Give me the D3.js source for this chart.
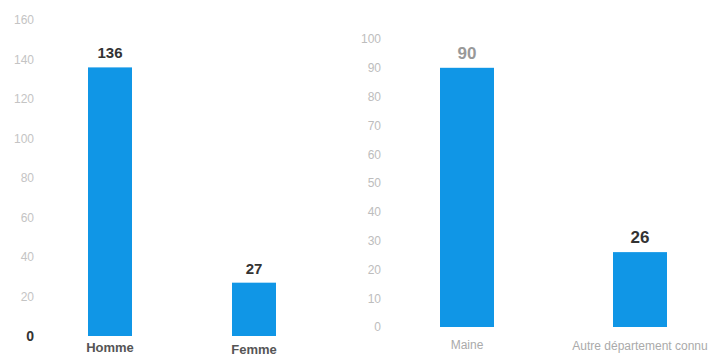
<!DOCTYPE html>
<html><head><meta charset="utf-8">
<script src="https://cdn.jsdelivr.net/npm/d3@7"></script>
<style>
body{margin:0;background:#fff;}
text{font-family:"Liberation Sans Narrow","Arial Narrow","Liberation Sans",sans-serif;}
</style></head>
<body><svg id="c" width="721" height="359"></svg>
<script>
const sexCategories = ["Homme", "Femme"];
const sexValues = [136, 27];
const sexTicks = [0, 20, 40, 60, 80, 100, 120, 140, 160];

const originCategories = ["Maine", "Autre département connu"];
const originValues = [90, 26];
const originTicks = [0, 10, 20, 30, 40, 50, 60, 70, 80, 90, 100];

const svg = d3.select("#c");
const blue = "#1096e6";

function panel(cfg){
  const g = svg.append("g");
  const y = d3.scaleLinear().domain(cfg.domain).range(cfg.yRange);
  const x = d3.scalePoint().domain(cfg.cats).range(cfg.xRange);
  const axis = d3.axisLeft(y).tickValues(cfg.ticks).tickSize(0).tickPadding(0);
  const ag = g.append("g").attr("transform", `translate(${cfg.axisX},0)`).call(axis);
  ag.select(".domain").remove();
  ag.selectAll("text").attr("font-size", cfg.tickFont).attr("fill", cfg.tickColor).style("font-family", "'Liberation Sans Narrow','Liberation Sans',sans-serif");
  if (cfg.zeroStyle) ag.selectAll("text").filter(d => d === 0).attr("fill", "#333").attr("font-weight", "bold").attr("font-size", 14);
  const bw = cfg.barW;
  g.selectAll("rect.bar").data(cfg.vals).join("rect").attr("class","bar")
    .attr("x", (d,i) => x(cfg.cats[i]) - bw/2).attr("width", bw)
    .attr("y", d => y(d)).attr("height", d => y(0) - y(d)).attr("fill", blue);
  g.selectAll("text.val").data(cfg.vals).join("text").attr("class","val")
    .attr("x", (d,i) => x(cfg.cats[i]))
    .attr("y", d => y(d) - 9).attr("text-anchor","middle")
    .attr("font-size", cfg.valFont).attr("font-weight","bold")
    .attr("fill", (d,i) => cfg.valColors[i]).text(d => d);
  g.selectAll("text.cat").data(cfg.cats).join("text").attr("class","cat")
    .attr("x", d => x(d))
    .attr("y", (d,i) => cfg.catY[i]).attr("text-anchor","middle")
    .attr("font-size", cfg.catFont).attr("font-weight", cfg.catWeight)
    .attr("fill", cfg.catColor).text(d => d);
}

panel({cats: sexCategories, vals: sexValues, ticks: sexTicks, domain:[0,160], yRange:[336,20],
  xRange:[110,254], barW:44, axisX:34, tickFont:12, tickColor:"#c4c4c4", zeroStyle:true,
  valFont:15, valColors:["#333","#333"], catY:[352,354], catFont:13, catWeight:"bold", catColor:"#555"});

panel({cats: originCategories, vals: originValues, ticks: originTicks, domain:[0,100], yRange:[327,39],
  xRange:[467,640], barW:54, axisX:381, tickFont:12, tickColor:"#bdbdbd", zeroStyle:false,
  valFont:17, valColors:["#999","#333"], catY:[349,350], catFont:12, catWeight:"normal", catColor:"#aaa"});
</script></body></html>
